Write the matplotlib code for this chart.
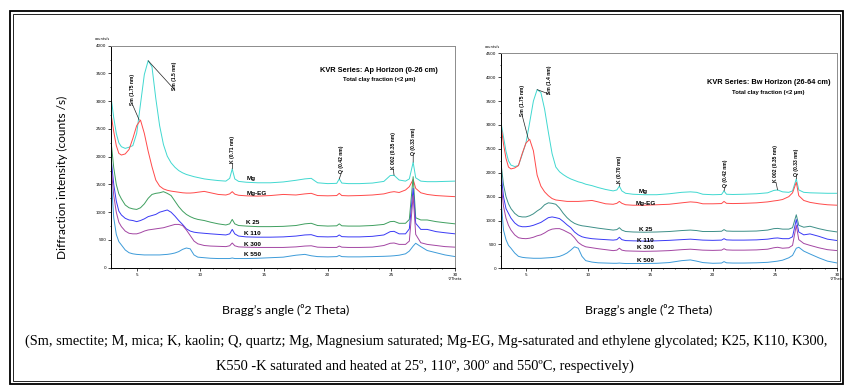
import matplotlib.pyplot as plt
from matplotlib.patches import Rectangle
from matplotlib.ticker import MultipleLocator

# XRD patterns of the total clay fraction, KVR series, Ap and Bw horizons.
# Every trace is read at the same 2-theta positions.

two_theta = [3.0, 3.2, 3.4, 3.6, 3.8,
             4.1, 4.4, 4.7,
             5.0, 5.3, 5.6, 5.9,
             6.2, 6.5, 6.8,
             7.1, 7.4, 7.7,
             8.0, 8.3, 8.6, 8.9,
             9.2, 9.5, 9.8,
             10.3, 10.8, 11.4,
             12.0, 12.3, 12.5, 12.7,
             13.0, 13.6, 14.5, 15.5, 16.5, 17.5,
             18.2, 18.7, 19.2,
             20.0, 20.7, 20.9, 21.1, 21.6,
             22.5, 23.5, 24.4, 24.9,
             25.2, 25.6, 26.1, 26.4,
             26.7, 26.9, 27.3, 27.8,
             28.5, 29.2, 30.0]

# Ap horizon (0-26 cm)
ap_mg = [3050, 2700, 2420, 2250, 2180,
         2150, 2170, 2200,
         2420, 2950, 3480, 3730,
         3620, 3050, 2560,
         2220, 2010, 1890,
         1810, 1750, 1710, 1680,
         1660, 1640, 1625,
         1600, 1585, 1570,
         1560, 1610, 1780, 1600,
         1555, 1540, 1530, 1530, 1545, 1575,
         1600, 1610, 1530,
         1515, 1520, 1600, 1525, 1515,
         1515, 1525, 1555, 1660,
         1665, 1580, 1560, 1600,
         1900, 1620, 1560, 1550,
         1550, 1555, 1560]
ap_mgeg = [2750, 2450, 2200, 2060, 2030,
           2050, 2130, 2330,
           2560, 2660, 2420, 2100,
           1820, 1580, 1470,
           1420, 1395, 1380,
           1370, 1360, 1350, 1345,
           1345, 1350, 1360,
           1375, 1350, 1320,
           1310, 1330, 1370, 1325,
           1305, 1295, 1290, 1300, 1320, 1310,
           1330, 1340, 1300,
           1295, 1300, 1340, 1300, 1295,
           1300, 1310, 1330, 1360,
           1370, 1355, 1400, 1460,
           1590, 1430, 1350, 1320,
           1300, 1290, 1280]
ap_k25 = [2250, 1800, 1500, 1330, 1240,
          1130, 1080, 1060,
          1050, 1080, 1150, 1250,
          1320, 1340, 1350,
          1370, 1340, 1300,
          1200, 1100, 1020, 960,
          920, 890, 870,
          850, 820, 790,
          770, 790, 870, 790,
          760, 750, 740, 740, 745, 760,
          790, 800, 760,
          750, 755, 790, 755, 750,
          750, 760, 780, 830,
          835, 800, 800, 870,
          1640, 900, 860, 860,
          830, 810, 790]
ap_k110 = [1950, 1500, 1200, 1020, 950,
           890, 860, 850,
           830, 850, 880, 920,
           940, 960, 1000,
           1020, 1040, 1000,
           930, 850, 780, 700,
           660, 640, 630,
           620, 610, 600,
           590, 610, 690, 610,
           570, 555, 550, 550, 555, 570,
           590, 595, 560,
           555, 560, 590, 560, 555,
           555, 565, 590, 650,
           655, 610, 610, 700,
           1430, 800, 690, 690,
           650, 630, 610]
ap_k300 = [1800, 1300, 1000, 820, 740,
           660, 620, 610,
           610, 630, 660, 680,
           690, 700, 710,
           720, 740, 760,
           780, 780, 760, 680,
           580, 480, 430,
           400, 390, 385,
           380, 395, 445, 395,
           375, 370, 365, 365, 365, 375,
           390, 395, 370,
           365, 365, 390, 370, 365,
           365, 370, 400, 440,
           445, 420, 420, 480,
           1300, 600, 450, 420,
           400, 380, 370]
ap_k550 = [1600, 900, 600, 470, 410,
           320, 270, 250,
           240, 235, 230, 230,
           230, 230, 230,
           235, 240, 250,
           265, 290, 330, 355,
           340, 230, 190,
           180, 170, 165,
           165, 165, 175, 165,
           165, 165, 170, 180, 190, 225,
           240, 215, 200,
           195, 200, 220, 200, 195,
           195, 200, 205, 210,
           215, 225, 250, 300,
           390, 440, 380, 310,
           270, 230, 200]

# Bw horizon (26-64 cm)
bw_mg = [3050, 2750, 2450, 2250, 2160,
         2130, 2150, 2380,
         2620, 3050, 3500, 3740,
         3680, 3330, 2850,
         2400, 2120, 2020,
         1960, 1910, 1870, 1840,
         1810, 1790, 1760,
         1730, 1690, 1650,
         1620, 1640, 1720, 1620,
         1570, 1550, 1540, 1540, 1560, 1590,
         1600, 1590, 1550,
         1540, 1545, 1620, 1550, 1545,
         1550, 1560, 1580, 1630,
         1640, 1600, 1590, 1620,
         1870, 1640, 1590, 1580,
         1575, 1570, 1570]
bw_mgeg = [2990, 2600, 2300, 2120, 2080,
           2100, 2150, 2400,
           2620, 2700, 2460, 1950,
           1720, 1600, 1520,
           1460, 1430, 1420,
           1410, 1400, 1400, 1400,
           1400, 1405, 1410,
           1420, 1390, 1350,
           1340, 1360, 1400, 1360,
           1330, 1320, 1320, 1330, 1340, 1370,
           1390, 1380, 1350,
           1350, 1355, 1400, 1360, 1355,
           1360, 1370, 1390, 1410,
           1420, 1440, 1500, 1580,
           1800, 1520, 1420, 1380,
           1350, 1330, 1320]
bw_k25 = [2200, 1750, 1500, 1350, 1250,
          1150, 1090, 1075,
          1075, 1100, 1140, 1200,
          1250, 1330, 1370,
          1360, 1340, 1260,
          1150, 1060, 990, 940,
          910, 890, 880,
          860, 840, 820,
          800, 810, 850, 800,
          770, 760, 755, 760, 770, 790,
          800, 790, 770,
          770, 775, 810, 780, 775,
          775, 780, 800, 830,
          835, 820, 820, 850,
          1120, 900, 860, 880,
          830, 790, 760]
bw_k110 = [2000, 1500, 1250, 1150, 1050,
           950, 890, 870,
           870, 880, 900, 930,
           960, 1010, 1060,
           1075, 1060, 1040,
           980, 910, 850, 760,
           700, 660, 640,
           620, 610, 600,
           590, 600, 650, 600,
           580, 575, 570, 575, 585, 600,
           610, 600, 590,
           585, 590, 620, 595, 590,
           590, 595, 610, 630,
           635, 620, 620, 660,
           1020, 760, 700, 720,
           670, 610, 580]
bw_k300 = [1800, 1300, 1050, 900, 800,
           700, 640, 625,
           620, 630, 650, 680,
           700, 740, 790,
           820, 830, 830,
           800, 760, 720, 640,
           540, 485, 450,
           430, 410, 390,
           370, 380, 420, 380,
           365, 360, 355, 360, 370, 390,
           400, 390, 380,
           375, 380, 410, 385, 380,
           380, 385, 400, 430,
           440, 420, 430, 480,
           900, 600, 520, 480,
           430, 390, 370]
bw_k500 = [1450, 800, 600, 480, 420,
           320, 250, 230,
           220, 215, 210, 210,
           210, 215, 220,
           225, 235, 250,
           280, 320, 380, 450,
           420, 250, 160,
           130, 115, 110,
           105, 105, 110, 105,
           100, 100, 100, 105, 120, 160,
           175, 150, 120,
           105, 110, 140, 115, 110,
           110, 115, 125, 140,
           150, 170, 220, 270,
           420, 440, 360, 300,
           220, 150, 110]

treatments_ap = ['Mg', 'Mg-EG', 'K 25', 'K 110', 'K 300', 'K 550']
treatments_bw = ['Mg', 'Mg-EG', 'K 25', 'K 110', 'K 300', 'K 500']

W, H = 848, 387
fig = plt.figure(figsize=(W / 100, H / 100), dpi=100)


def px_box(x0, y0, x1, y1):
    # pixel box measured from the top-left corner -> [left, bottom, width, height]
    return [x0 / W, 1 - y1 / H, (x1 - x0) / W, (y1 - y0) / H]


def style_axes(ax, ytop):
    ax.set_xlim(3, 30)
    ax.set_ylim(0, ytop)
    ax.xaxis.set_major_locator(MultipleLocator(5))
    ax.xaxis.set_minor_locator(MultipleLocator(1))
    ax.yaxis.set_major_locator(MultipleLocator(500))
    ax.yaxis.set_minor_locator(MultipleLocator(250))
    ax.tick_params(which='both', direction='out', labelsize=3, pad=1.5, width=0.5)
    ax.tick_params(which='major', length=2)
    ax.tick_params(which='minor', length=1)
    for side, sp in ax.spines.items():
        sp.set_linewidth(0.7)
        if side in ('top', 'right'):
            sp.set_color('#8c8c8c')
    ax.text(-0.027, 1.02, 'counts/s', transform=ax.transAxes, fontsize=2.6,
            ha='center', va='bottom')
    ax.text(1.0, -0.04, '°2Theta', transform=ax.transAxes, fontsize=2.6,
            ha='center', va='top')


def peak_note(ax, text, xy, xytext):
    ax.annotate(text, xy=xy, xytext=xytext, rotation=90, ha='center', va='bottom',
                fontsize=3.6, fontweight='bold', family='Liberation Sans',
                arrowprops=dict(arrowstyle='-', lw=0.5, color='#222222',
                                relpos=(0.5, 0), patchA=None,
                                shrinkA=0, shrinkB=0))


def draw_panel(ax, series, colors, names, label_xy):
    for vals, col, name, (lx, ly) in zip(series, colors, names, label_xy):
        ax.plot(two_theta, vals, color=col, lw=0.7)
        ax.text(lx, ly, name, fontsize=4.6, fontweight='bold',
                family='Liberation Sans', ha='center', va='center')


ap_colors = ['#40d8d0', '#ff4a4a', '#3f9f5f', '#3a3af5', '#a346a3', '#3d9bd9']
bw_colors = ['#40d8d0', '#ff4a4a', '#3d8f88', '#3a3af5', '#a346a3', '#3d9bd9']

# left panel: Ap horizon
ax_ap = fig.add_axes(px_box(111.2, 45.7, 455.2, 267.7))
style_axes(ax_ap, 4000)
draw_panel(ax_ap, [ap_mg, ap_mgeg, ap_k25, ap_k110, ap_k300, ap_k550],
           ap_colors, treatments_ap,
           [(14.0, 1610), (14.4, 1330), (14.1, 810), (14.1, 620),
            (14.1, 410), (14.1, 230)])
ax_ap.text(24.0, 3550, 'KVR Series: Ap Horizon (0-26 cm)', fontsize=5.3,
           fontweight='bold', family='Liberation Sans', ha='center', va='center')
ax_ap.text(24.0, 3385, 'Total clay fraction (<2 µm)', fontsize=4.2,
           fontweight='bold', family='Liberation Sans', ha='center', va='center')
peak_note(ax_ap, 'Sm (1.75 nm)', (5.2, 2660), (4.69, 2930))
peak_note(ax_ap, 'Sm (1.5 nm)', (5.9, 3730), (8.0, 3200))
peak_note(ax_ap, 'K (0.71 nm)', (12.5, 1780), (12.54, 1880))
peak_note(ax_ap, 'Q (0.42 nm)', (20.9, 1600), (21.05, 1700))
peak_note(ax_ap, 'K 002 (0.35 nm)', (25.2, 1665), (25.14, 1780))
peak_note(ax_ap, 'Q (0.33 nm)', (26.7, 1900), (26.71, 2030))

# right panel: Bw horizon
ax_bw = fig.add_axes(px_box(501, 53.3, 837.4, 268.3))
style_axes(ax_bw, 4500)
draw_panel(ax_bw, [bw_mg, bw_mgeg, bw_k25, bw_k110, bw_k300, bw_k500],
           bw_colors, treatments_bw,
           [(14.4, 1600), (14.6, 1365), (14.6, 808), (14.6, 587),
            (14.6, 427), (14.6, 162)])
ax_bw.text(24.45, 3888, 'KVR Series: Bw Horizon (26-64 cm)', fontsize=5.3,
           fontweight='bold', family='Liberation Sans', ha='center', va='center')
ax_bw.text(24.45, 3680, 'Total clay fraction (<2 µm)', fontsize=4.2,
           fontweight='bold', family='Liberation Sans', ha='center', va='center')
peak_note(ax_bw, 'Sm (1.75 nm)', (5.2, 2700), (4.71, 3190))
peak_note(ax_bw, 'Sm (1.4 nm)', (5.9, 3740), (6.93, 3640))
peak_note(ax_bw, 'K (0.70 nm)', (12.5, 1720), (12.55, 1780))
peak_note(ax_bw, 'Q (0.42 nm)', (20.9, 1620), (20.98, 1700))
peak_note(ax_bw, 'K 002 (0.35 nm)', (25.2, 1640), (25.07, 1800))
peak_note(ax_bw, 'Q (0.33 nm)', (26.7, 1870), (26.73, 1940))

# shared axis titles
fig.text(62 / W, 1 - 177 / H, 'Diffraction intensity (counts /s)', rotation=90,
         ha='center', va='center', fontsize=8.6, family='Lato')
for cx in (286, 649):
    fig.text(cx / W, 1 - 310 / H, 'Bragg’s angle (⁰2 Theta)', ha='center',
             va='center', fontsize=8.9, family=['Lato', 'DejaVu Sans'])

# caption
caption_1 = ('(Sm, smectite; M, mica; K, kaolin; Q, quartz; Mg, Magnesium saturated; '
             'Mg-EG, Mg-saturated and ethylene glycolated; K25, K110, K300,')
caption_2 = 'K550 -K saturated and heated at 25º, 110º, 300º and 550ºC, respectively)'
fig.text(426 / W, 1 - 341 / H, caption_1, ha='center', va='center',
         fontsize=10.4, family='Liberation Serif')
fig.text(425 / W, 1 - 366 / H, caption_2, ha='center', va='center',
         fontsize=10.4, family='Liberation Serif')

# double frame round the figure
fig.add_artist(Rectangle((10 / W, 1 - 384 / H), 833 / W, 373 / H, fill=False,
                         lw=1.3, color='black', transform=fig.transFigure))
fig.add_artist(Rectangle((13 / W, 1 - 381 / H), 827 / W, 367 / H, fill=False,
                         lw=0.6, color='black', transform=fig.transFigure))

fig.savefig('out.png', dpi=100, facecolor='white')
